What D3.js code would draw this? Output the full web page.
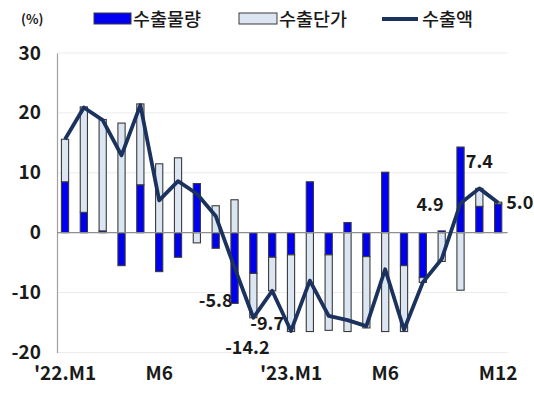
<!DOCTYPE html>
<html>
<head>
<meta charset="utf-8">
<script src="https://cdn.jsdelivr.net/npm/d3@7"></script>
<style>
  html, body { margin: 0; padding: 0; background: #fff; }
  svg { display: block; font-family: "Noto Sans CJK KR", "Noto Sans", sans-serif; }
</style>
</head>
<body>
<svg id="chart" width="534" height="394"></svg>
<script>
// Monthly export growth (%, y/y): volume and unit-price contributions, plus export value
const months = ["2022-01","2022-02","2022-03","2022-04","2022-05","2022-06",
                "2022-07","2022-08","2022-09","2022-10","2022-11","2022-12",
                "2023-01","2023-02","2023-03","2023-04","2023-05","2023-06",
                "2023-07","2023-08","2023-09","2023-10","2023-11","2023-12"];
const volume = [8.5, 3.4, 0.3, -5.5, 8.0, -6.5, -4.1, 8.2, -2.6, -11.8, -6.8, -4.1,
                -3.7, 8.5, -3.7, 1.7, -4.0, 10.1, -5.5, -7.5, 0.3, 14.3, 4.4, 4.8];
const price  = [7.1, 17.6, 18.6, 18.3, 13.5, 11.5, 12.5, -1.7, 4.5, 5.5, -7.4, -5.6,
                -12.8, -16.5, -12.6, -16.5, -11.9, -16.5, -11.0, -0.8, -4.8, -9.6, 3.0, 0.3];
const exportValue = [15.6, 20.9, 18.8, 12.9, 21.3, 5.4, 8.6, 6.5, 2.8, -5.8, -14.2, -9.7,
                     -16.4, -8.0, -13.9, -14.6, -15.6, -6.1, -16.2, -8.3, -4.4, 4.9, 7.4, 5.0];
const xTickLabels = {"2022-01": "'22.M1", "2022-06": "M6", "2023-01": "'23.M1", "2023-06": "M6", "2023-12": "M12"};
const yTicks = [30, 20, 10, 0, -10, -20];
const seriesNames = ["수출물량", "수출단가", "수출액"];
// months whose export value is printed next to the line
const labelledMonths = ["2022-10","2022-11","2022-12","2023-10","2023-11","2023-12"];

const colors = { volume: "#0000f0", price: "#dce6f2", line: "#1b325e", barStroke: "#3a3a3a" };

const svg = d3.select("#chart");
const plot = { left: 55.6, right: 507.6, top: 53, bottom: 352.5 };

const x = d3.scaleBand().domain(months).range([plot.left, plot.right]).paddingInner(0).paddingOuter(0);
const y = d3.scaleLinear().domain([-20, 30]).range([plot.bottom, plot.top]);
const cx = m => x(m) + x.bandwidth() / 2;
const barW = 7.2;
const fmt = v => v.toFixed(1);

// gridlines
svg.append("g").selectAll("line").data(yTicks.filter(t => t !== 0)).join("line")
  .attr("x1", 57).attr("x2", plot.right)
  .attr("y1", d => y(d)).attr("y2", d => y(d))
  .attr("stroke", "#ececec").attr("stroke-width", 1);

// y axis
const yAxis = svg.append("g").attr("transform", "translate(57,0)")
  .call(d3.axisLeft(y).tickValues(yTicks).tickFormat(d => String(d)).tickSize(0).tickPadding(16));
yAxis.select(".domain").attr("stroke", "#a0a0a0").attr("stroke-width", 1.2);
yAxis.selectAll("text").attr("font-size", 19).attr("font-weight", 700).attr("fill", "#1a1a1a")
  .attr("font-family", "'Noto Sans CJK KR', sans-serif");

// x axis labels
const xAxis = svg.append("g").attr("transform", `translate(0,${plot.bottom})`)
  .call(d3.axisBottom(x).tickValues(Object.keys(xTickLabels)).tickFormat(m => xTickLabels[m]).tickSize(0).tickPadding(14));
xAxis.select(".domain").remove();
xAxis.selectAll("text").attr("font-size", 19).attr("font-weight", 700).attr("fill", "#1a1a1a")
  .attr("font-family", "'Noto Sans CJK KR', sans-serif");

// value labels (drawn beneath the marks)
const labelOffsets = {
  "2022-10": { dx: -2, dy: 40, anchor: "end" },
  "2022-11": { dx: -6, dy: 36, anchor: "middle" },
  "2022-12": { dx: -5, dy: 39, anchor: "middle" },
  "2023-10": { dx: -17, dy: 8, anchor: "end" },
  "2023-11": { dx: 0, dy: -20, anchor: "middle" },
  "2023-12": { dx: 8, dy: 6, anchor: "start" }
};
svg.append("g").selectAll("text").data(labelledMonths).join("text")
  .attr("x", m => cx(m) + labelOffsets[m].dx)
  .attr("y", m => y(exportValue[months.indexOf(m)]) + labelOffsets[m].dy)
  .attr("text-anchor", m => labelOffsets[m].anchor)
  .attr("font-size", 18).attr("font-weight", 700).attr("fill", "#1a1a1a")
  .text(m => fmt(exportValue[months.indexOf(m)]));

// stacked bars: volume first, then unit price, diverging around zero
const rows = months.map((m, i) => ({ month: m, volume: volume[i], price: price[i] }));
const stacked = d3.stack().keys(["volume", "price"]).offset(d3.stackOffsetDiverging)(rows);
const fills = { volume: colors.volume, price: colors.price };

svg.append("g").selectAll("g").data(stacked).join("g")
  .attr("fill", d => fills[d.key])
  .selectAll("rect").data(d => d).join("rect")
  .attr("x", d => cx(d.data.month) - barW / 2)
  .attr("width", barW)
  .attr("y", d => y(Math.max(d[0], d[1])))
  .attr("height", d => Math.abs(y(d[0]) - y(d[1])))
  .attr("stroke", colors.barStroke).attr("stroke-width", 1.1);

// zero line
svg.append("line").attr("x1", 57).attr("x2", plot.right)
  .attr("y1", y(0)).attr("y2", y(0))
  .attr("stroke", "#8e8e8e").attr("stroke-width", 1.2);

// export value line
const line = d3.line().x((d, i) => cx(months[i])).y(d => y(d));
svg.append("path").datum(exportValue)
  .attr("d", line).attr("fill", "none")
  .attr("stroke", colors.line).attr("stroke-width", 3.8).attr("stroke-linejoin", "round");

// unit and legend
svg.append("text").attr("x", 21).attr("y", 24).attr("font-size", 13).attr("font-weight", 700)
  .attr("fill", "#1a1a1a").text("(%)");

const legend = svg.append("g");
legend.append("rect").attr("x", 94).attr("y", 13).attr("width", 37).attr("height", 11)
  .attr("fill", colors.volume).attr("stroke", colors.barStroke).attr("stroke-width", 1);
legend.append("text").attr("x", 133).attr("y", 26).text(seriesNames[0]);
legend.append("rect").attr("x", 239).attr("y", 13).attr("width", 38).attr("height", 11)
  .attr("fill", colors.price).attr("stroke", colors.barStroke).attr("stroke-width", 1);
legend.append("text").attr("x", 279).attr("y", 26).text(seriesNames[1]);
legend.append("line").attr("x1", 382).attr("x2", 418).attr("y1", 19).attr("y2", 19)
  .attr("stroke", colors.line).attr("stroke-width", 3.8);
legend.append("text").attr("x", 422).attr("y", 26).text(seriesNames[2]);
legend.selectAll("text").attr("font-size", 18.5).attr("font-weight", 500).attr("fill", "#1a1a1a");
</script>
</body>
</html>
